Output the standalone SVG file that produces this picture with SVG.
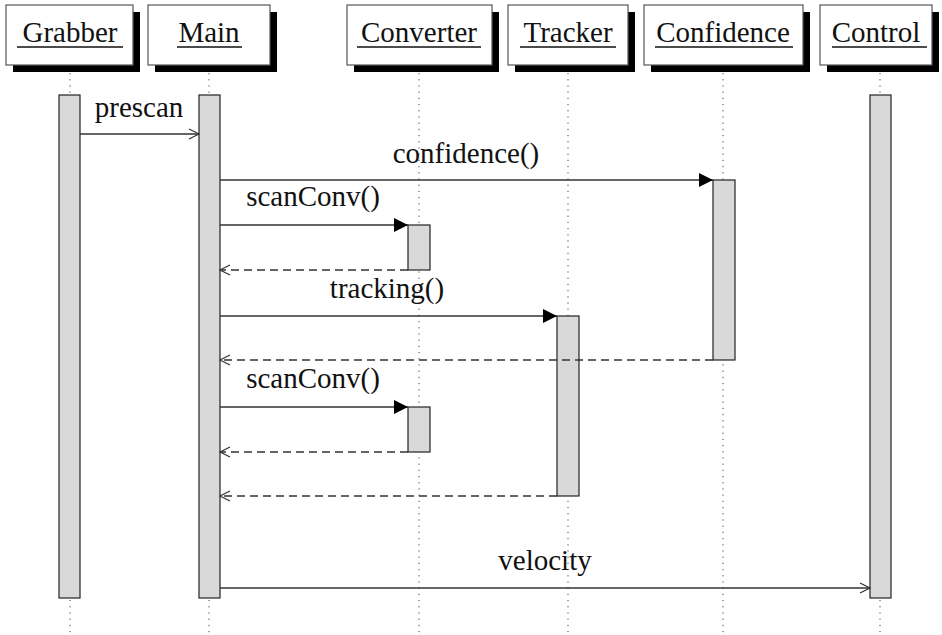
<svg xmlns="http://www.w3.org/2000/svg" width="942" height="635" viewBox="0 0 942 635">
<style>
.box{fill:#fff;stroke:#555;stroke-width:1.2}
.sh{fill:#000}
.t{font-size:29px;fill:#111;text-anchor:middle}
.ul{stroke:#111;stroke-width:1.3}
.life{stroke:#444;stroke-width:1;stroke-dasharray:1.2 5}
.act{fill:#d9d9d9;stroke:#222;stroke-width:1.2}
.msg{stroke:#333;stroke-width:1.3;fill:none}
.ret{stroke:#333;stroke-width:1.3;fill:none;stroke-dasharray:8 5}
</style>
<defs>
<marker id="fill" markerWidth="16" markerHeight="14" refX="14" refY="7" orient="auto" markerUnits="userSpaceOnUse"><path d="M0,0 L14,7 L0,14 z" fill="#000"/></marker>
<marker id="open" markerWidth="14" markerHeight="14" refX="11" refY="7" orient="auto" markerUnits="userSpaceOnUse"><path d="M1,2 L11,7 L1,12" fill="none" stroke="#333" stroke-width="1.2"/></marker>
</defs>
<g font-family="Liberation Serif, Tinos, Times New Roman, DejaVu Serif, serif">
<g id="lifelines">
<line class="life" x1="70" y1="73" x2="70" y2="635"/>
<line class="life" x1="209" y1="73" x2="209" y2="635"/>
<line class="life" x1="419" y1="73" x2="419" y2="635"/>
<line class="life" x1="568" y1="73" x2="568" y2="635"/>
<line class="life" x1="723" y1="73" x2="723" y2="635"/>
<line class="life" x1="880" y1="73" x2="880" y2="635"/>
</g>
<g id="Grabber"><rect class="sh" x="13" y="12" width="127" height="60"/><rect class="box" x="6" y="5" width="127" height="60"/><text class="t" x="70" y="42">Grabber</text><line class="ul" x1="17" y1="47" x2="123" y2="47"/></g>
<g id="Main"><rect class="sh" x="155" y="12" width="122" height="60"/><rect class="box" x="148" y="5" width="122" height="60"/><text class="t" x="209" y="42">Main</text><line class="ul" x1="177" y1="47" x2="242" y2="47"/></g>
<g id="Converter"><rect class="sh" x="354" y="12" width="145" height="60"/><rect class="box" x="347" y="5" width="145" height="60"/><text class="t" x="419" y="42">Converter</text><line class="ul" x1="357" y1="47" x2="481" y2="47"/></g>
<g id="Tracker"><rect class="sh" x="515" y="12" width="120" height="60"/><rect class="box" x="508" y="5" width="120" height="60"/><text class="t" x="568" y="42">Tracker</text><line class="ul" x1="520" y1="47" x2="616" y2="47"/></g>
<g id="Confidence"><rect class="sh" x="651" y="12" width="159" height="60"/><rect class="box" x="644" y="5" width="159" height="60"/><text class="t" x="723" y="42">Confidence</text><line class="ul" x1="655" y1="47" x2="793" y2="47"/></g>
<g id="Control"><rect class="sh" x="827" y="12" width="112" height="60"/><rect class="box" x="820" y="5" width="112" height="60"/><text class="t" x="876" y="42">Control</text><line class="ul" x1="832" y1="47" x2="927" y2="47"/></g>
<g id="activations">
<rect class="act" x="59" y="95" width="21" height="503"/>
<rect class="act" x="199" y="95" width="21" height="503"/>
<rect class="act" x="870" y="95" width="21" height="503"/>
<rect class="act" x="713" y="180" width="22" height="180"/>
<rect class="act" x="408" y="225" width="22" height="45"/>
<rect class="act" x="557" y="316" width="22" height="180"/>
<rect class="act" x="408" y="407" width="22" height="45"/>
</g>
<g id="connectors">
<line class="msg" x1="80" y1="134" x2="199" y2="134" marker-end="url(#open)"/>
<line class="msg" x1="220" y1="180" x2="713" y2="180" marker-end="url(#fill)"/>
<line class="msg" x1="220" y1="225" x2="408" y2="225" marker-end="url(#fill)"/>
<line class="ret" x1="408" y1="270" x2="220" y2="270" marker-end="url(#open)"/>
<line class="msg" x1="220" y1="316" x2="557" y2="316" marker-end="url(#fill)"/>
<line class="ret" x1="713" y1="360" x2="220" y2="360" marker-end="url(#open)"/>
<line class="msg" x1="220" y1="407" x2="408" y2="407" marker-end="url(#fill)"/>
<line class="ret" x1="408" y1="452" x2="220" y2="452" marker-end="url(#open)"/>
<line class="ret" x1="557" y1="496" x2="220" y2="496" marker-end="url(#open)"/>
<line class="msg" x1="220" y1="588" x2="870" y2="588" marker-end="url(#open)"/>
</g>
<g id="labels">
<text class="t" x="139" y="117">prescan</text>
<text class="t" x="466" y="163">confidence()</text>
<text class="t" x="313" y="206">scanConv()</text>
<text class="t" x="387" y="298">tracking()</text>
<text class="t" x="313" y="388">scanConv()</text>
<text class="t" x="545" y="570">velocity</text>
</g>
</g>
</svg>
